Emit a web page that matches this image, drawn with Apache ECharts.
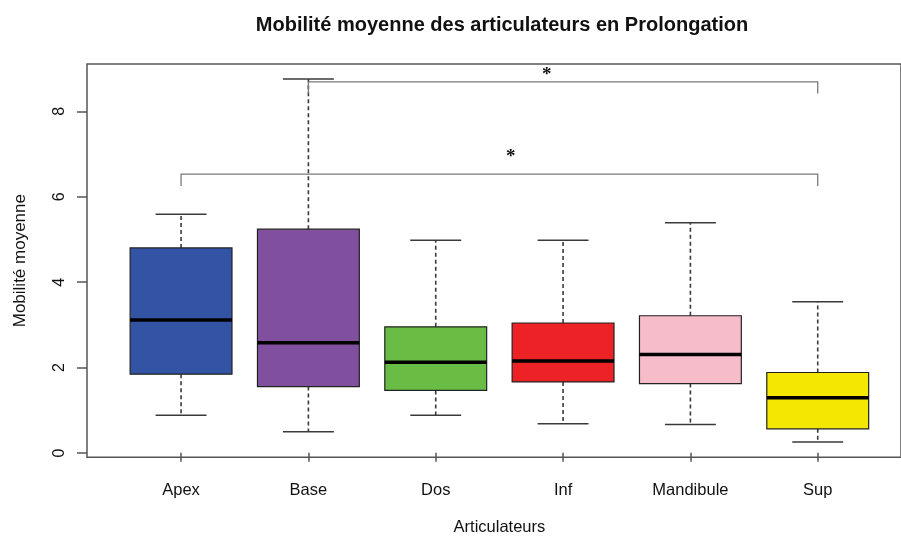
<!DOCTYPE html>
<html>
<head>
<meta charset="utf-8">
<script src="https://cdn.jsdelivr.net/npm/echarts@6/dist/echarts.min.js"></script>
<style>
  html, body { margin: 0; padding: 0; background: #fff; }
  #chart { width: 901px; height: 541px; }
</style>
</head>
<body>
<div id="chart"></div>
<script>
// Five-number summaries per articulator
const categories = ['Apex', 'Base', 'Dos', 'Inf', 'Mandibule', 'Sup'];
const lowerWhisker = [0.88, 0.49, 0.88, 0.68, 0.66, 0.25];
const q1 = [1.84, 1.55, 1.46, 1.66, 1.62, 0.56];
const median = [3.11, 2.58, 2.12, 2.15, 2.30, 1.29];
const q3 = [4.80, 5.24, 2.95, 3.04, 3.21, 1.88];
const upperWhisker = [5.59, 8.76, 4.98, 4.98, 5.39, 3.54];
const yTicks = [0, 2, 4, 6, 8];

// Significance brackets: category indices, bar height, end drop
const bracketFrom = [1, 0];
const bracketTo = [5, 5];
const bracketLevel = [8.69, 6.53];
const bracketEnd = [8.42, 6.25];
const bracketLabel = ['*', '*'];
const bracketStarAt = [0.468, 0.518];
const bracketStarLevel = [8.86, 6.93];

const boxColors = ['#3354A5', '#804F9D', '#69BD44', '#EC2227', '#F7BCCA', '#F4E702'];

const Y_MIN = -0.1, Y_MAX = 9.11;
const GRID_TOP = 64, GRID_H = 393.3;

const chart = echarts.init(document.getElementById('chart'), null, { renderer: 'canvas' });

const boxData = categories.map((c, i) =>
  [i, lowerWhisker[i], q1[i], median[i], q3[i], upperWhisker[i]]);
const bracketData = bracketFrom.map((f, k) =>
  [f, bracketTo[k], bracketLevel[k], bracketEnd[k], bracketStarAt[k], bracketStarLevel[k], k]);

function renderBox(params, api) {
  const i = api.value(0);
  const band = api.size([1, 0])[0];
  const cx = api.coord([i, 0])[0];
  const hw = band * 0.4;
  const cw = band * 0.2;
  const yLw = api.coord([i, api.value(1)])[1];
  const yQ1 = api.coord([i, api.value(2)])[1];
  const yMed = api.coord([i, api.value(3)])[1];
  const yQ3 = api.coord([i, api.value(4)])[1];
  const yUw = api.coord([i, api.value(5)])[1];
  const whisk = { stroke: '#3a3a3a', lineWidth: 1.6, lineDash: [4, 3] };
  const cap = { stroke: '#3a3a3a', lineWidth: 1.6 };
  return {
    type: 'group',
    children: [
      { type: 'line', shape: { x1: cx, y1: yQ3, x2: cx, y2: yUw }, style: whisk },
      { type: 'line', shape: { x1: cx, y1: yQ1, x2: cx, y2: yLw }, style: whisk },
      { type: 'line', shape: { x1: cx - cw, y1: yUw, x2: cx + cw, y2: yUw }, style: cap },
      { type: 'line', shape: { x1: cx - cw, y1: yLw, x2: cx + cw, y2: yLw }, style: cap },
      { type: 'rect', shape: { x: cx - hw, y: yQ3, width: hw * 2, height: yQ1 - yQ3 },
        style: { fill: boxColors[i], stroke: '#222', lineWidth: 1.2 } },
      { type: 'line', shape: { x1: cx - hw, y1: yMed, x2: cx + hw, y2: yMed },
        style: { stroke: '#000', lineWidth: 3.5 } }
    ]
  };
}

function renderBracket(params, api) {
  const f = api.value(0), t = api.value(1);
  const yBar = api.coord([f, api.value(2)])[1];
  const yEnd = api.coord([f, api.value(3)])[1];
  const x1 = api.coord([f, 0])[0];
  const x2 = api.coord([t, 0])[0];
  const xs = x1 + (x2 - x1) * api.value(4);
  const ys = api.coord([f, api.value(5)])[1];
  const st = { stroke: '#7a7a7a', lineWidth: 1.3, fill: null };
  return {
    type: 'group',
    children: [
      { type: 'polyline', shape: { points: [[x1, yEnd], [x1, yBar], [x2, yBar], [x2, yEnd]] }, style: st },
      { type: 'text', x: xs, y: ys,
        style: { text: bracketLabel[api.value(6)], fill: '#111', font: 'bold 19px "Liberation Serif"',
                 align: 'center', verticalAlign: 'middle' } }
    ]
  };
}

chart.setOption({
  animation: false,
  backgroundColor: '#fff',
  title: {
    text: 'Mobilité moyenne des articulateurs en Prolongation',
    left: 497, top: 10, textAlign: 'center',
    textStyle: { fontFamily: 'Liberation Sans', fontSize: 20, fontWeight: 'bold', color: '#111' }
  },
  grid: [
    { left: 117.4, width: 764, top: GRID_TOP, height: GRID_H, show: false },
    { left: 87, width: 825, top: GRID_TOP, height: GRID_H, show: true,
      borderColor: '#555', borderWidth: 1.5, backgroundColor: 'transparent' }
  ],
  xAxis: [
    {
      type: 'category', gridIndex: 0, data: categories,
      axisLine: { show: false },
      axisTick: { show: true, alignWithLabel: true, length: 9, lineStyle: { color: '#555', width: 1.5 } },
      axisLabel: { margin: 25, fontFamily: 'Liberation Sans', fontSize: 16.5, color: '#111' },
      name: 'Articulateurs', nameLocation: 'middle', nameGap: 62,
      nameTextStyle: { fontFamily: 'Liberation Sans', fontSize: 16.5, color: '#111' },
      splitLine: { show: false }
    },
    {
      type: 'value', gridIndex: 1, show: false, min: 0, max: 1
    }
  ],
  yAxis: [
    { type: 'value', gridIndex: 0, min: Y_MIN, max: Y_MAX, show: false, splitLine: { show: false } },
    {
      type: 'value', gridIndex: 1, min: Y_MIN, max: Y_MAX,
      axisLine: { show: false },
      axisTick: { show: true, length: 10, customValues: yTicks, lineStyle: { color: '#555', width: 1.5 } },
      axisLabel: { customValues: yTicks, rotate: 90, margin: 19,
                   fontFamily: 'Liberation Sans', fontSize: 16, color: '#111' },
      splitLine: { show: false },
      name: 'Mobilité moyenne', nameLocation: 'middle', nameGap: 58, nameRotate: 90,
      nameTextStyle: { fontFamily: 'Liberation Sans', fontSize: 17, color: '#111' }
    }
  ],
  series: [
    { type: 'custom', xAxisIndex: 0, yAxisIndex: 0, data: boxData, renderItem: renderBox,
      encode: { x: 0, y: [1, 2, 3, 4, 5] }, clip: false },
    { type: 'custom', xAxisIndex: 0, yAxisIndex: 0, data: bracketData, renderItem: renderBracket,
      encode: { x: 0, y: [2, 3] }, clip: false, z: 3 }
  ]
});
</script>
</body>
</html>
